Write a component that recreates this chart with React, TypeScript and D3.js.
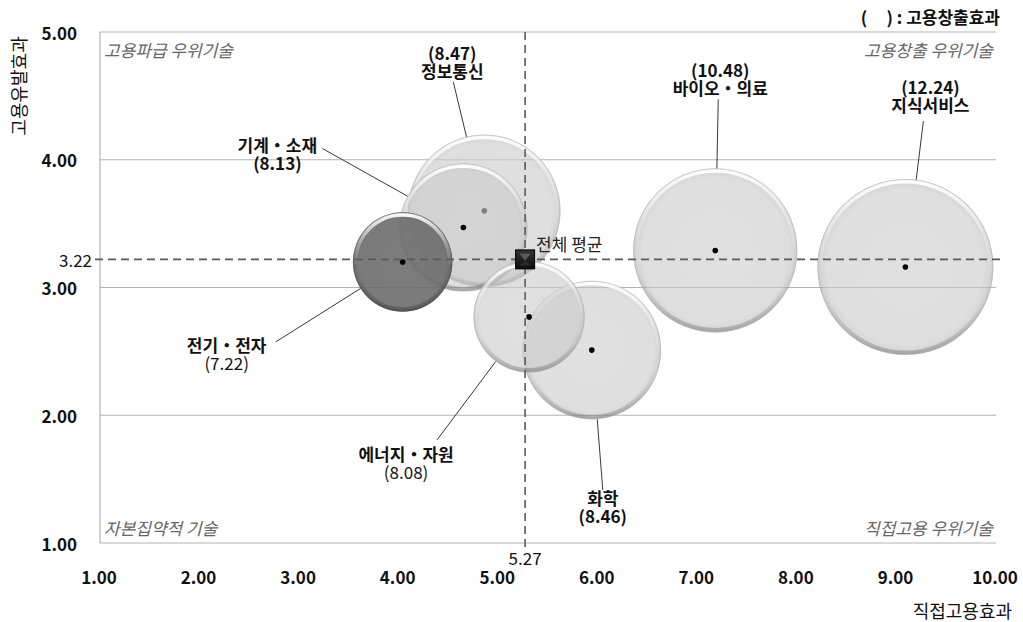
import React from "react";
import * as d3 from "d3";

// ---- data ----
const categories = ["전기・전자", "기계・소재", "정보통신", "바이오・의료", "지식서비스", "에너지・자원", "화학"];
const directEffect = [4.04, 4.65, 4.86, 7.18, 9.09, 5.31, 5.94]; // 직접고용효과 (x)
const inducedEffect = [3.2, 3.47, 3.6, 3.29, 3.16, 2.77, 2.51]; // 고용유발효과 (y)
const creationEffect = [7.22, 8.13, 8.47, 10.48, 12.24, 8.08, 8.46]; // 고용창출효과 (label)
const bubbleSize = [32, 53, 75, 87, 100, 40, 62]; // relative bubble area
const xTicks = [1, 2, 3, 4, 5, 6, 7, 8, 9, 10];
const yTicks = [1, 2, 3, 4, 5];
const avgX = 5.27;
const avgY = 3.22;
const avgLabel = "전체 평균";
const legendNote = "(     ) : 고용창출효과";
const xTitle = "직접고용효과";
const yTitle = "고용유발효과";
const quadrantNames = ["고용파급 우위기술", "고용창출 우위기술", "자본집약적 기술", "직접고용 우위기술"];

// ---- layout (label placement relative to bubble centre, px) ----
const labelLayout = [
  { dx: -176, dy: 83, valueFirst: false, lx: -127, ly: 80, valueBold: false },
  { dx: -186, dy: -83, valueFirst: false, lx: -141, ly: -79, valueBold: true },
  { dx: -32, dy: -158, valueFirst: true, lx: -31, ly: -129, valueBold: true },
  { dx: 5, dy: -181, valueFirst: true, lx: 3, ly: -151, valueBold: true },
  { dx: 25, dy: -181, valueFirst: true, lx: 18, ly: -146, valueBold: true },
  { dx: -123, dy: 137, valueFirst: false, lx: -92, ly: 123, valueBold: false },
  { dx: 11, dy: 147, valueFirst: false, lx: 11, ly: 140, valueBold: true },
];

const W = 1023;
const H = 622;
const M = { left: 100, right: 27, top: 32, bottom: 79 };
const FONT = "'Noto Sans CJK KR', 'Noto Sans', sans-serif";
const LINE_GAP = 18;

export default function App() {
  const x = d3.scaleLinear().domain([1, 10]).range([M.left, W - M.right]);
  const y = d3.scaleLinear().domain([1, 5]).range([H - M.bottom, M.top]);
  const r = d3.scaleSqrt().domain([0, 100]).range([0, 88]);

  const bubbles = categories.map((c, i) => ({
    name: c,
    cx: x(directEffect[i]),
    cy: y(inducedEffect[i]),
    r: r(bubbleSize[i]),
    value: creationEffect[i],
    dark: i === 0,
    i,
  }));
  const drawOrder = [...bubbles].sort((a, b) => b.r - a.r);

  const x0 = x(1), x1 = x(10), y0 = y(1), y1 = y(5);
  const ax = x(avgX), ay = y(avgY);

  return (
    <div style={{ position: "fixed", left: 0, top: 0, width: W, height: H, background: "#fff" }}>
      <svg width={W} height={H} style={{ display: "block", fontFamily: FONT }}>
        <defs>
          <radialGradient id="gLight" cx="50%" cy="50%" r="50%">
            <stop offset="0%" stopColor="#cdcdcd" />
            <stop offset="88%" stopColor="#cbcbcb" />
            <stop offset="96%" stopColor="#bdbdbd" />
            <stop offset="100%" stopColor="#a5a5a5" />
          </radialGradient>
          <radialGradient id="gDark" cx="50%" cy="50%" r="50%">
            <stop offset="0%" stopColor="#6e6e6e" />
            <stop offset="88%" stopColor="#6c6c6c" />
            <stop offset="96%" stopColor="#606060" />
            <stop offset="100%" stopColor="#4a4a4a" />
          </radialGradient>
          <linearGradient id="gRim" x1="0" y1="0" x2="0" y2="1">
            <stop offset="0%" stopColor="#fff" stopOpacity="0.95" />
            <stop offset="30%" stopColor="#fff" stopOpacity="0.35" />
            <stop offset="55%" stopColor="#fff" stopOpacity="0" />
            <stop offset="75%" stopColor="#000" stopOpacity="0.04" />
            <stop offset="100%" stopColor="#000" stopOpacity="0.2" />
          </linearGradient>
          <linearGradient id="gMarker" x1="0" y1="0" x2="0" y2="1">
            <stop offset="0%" stopColor="#333" />
            <stop offset="100%" stopColor="#0d0d0d" />
          </linearGradient>
        </defs>

        {/* gridlines */}
        {yTicks.map((t) => (
          <line key={"g" + t} x1={x0} x2={x1} y1={y(t)} y2={y(t)} stroke="#b3b3b3" strokeWidth={1.2} />
        ))}
        <line x1={x0} x2={x0} y1={y1} y2={y0} stroke="#b3b3b3" strokeWidth={1.2} />

        {/* quadrant labels */}
        <g fontStyle="italic" fill="#666" fontSize={17}>
          <text x={x0 + 4} y={y1 + 17} dominantBaseline="central">{quadrantNames[0]}</text>
          <text x={x1 - 3} y={y1 + 17} textAnchor="end" dominantBaseline="central">{quadrantNames[1]}</text>
          <text x={x0 + 4} y={y0 - 16} dominantBaseline="central">{quadrantNames[2]}</text>
          <text x={x1 - 3} y={y0 - 16} textAnchor="end" dominantBaseline="central">{quadrantNames[3]}</text>
        </g>

        {/* bubbles */}
        {drawOrder.map((b) => (
          <g key={b.name}>
            <circle cx={b.cx} cy={b.cy} r={b.r} fill={b.dark ? "url(#gDark)" : "url(#gLight)"} fillOpacity={b.dark ? 0.9 : 0.62} />
            <circle cx={b.cx} cy={b.cy} r={b.r - 2.5} fill="none" stroke="url(#gRim)" strokeWidth={4} />
            <circle cx={b.cx} cy={b.cy} r={b.r - 0.5} fill="none" stroke={b.dark ? "#555" : "#b0b0b0"} strokeOpacity={0.5} strokeWidth={1} />
            <circle cx={b.cx} cy={b.cy} r={2.8} fill="#000" />
          </g>
        ))}

        {/* average lines */}
        <line x1={x0 - 5} x2={x1 + 4} y1={ay} y2={ay} stroke="#5a5a5a" strokeWidth={1.6} strokeDasharray="8,5" />
        <line x1={ax} x2={ax} y1={y1} y2={y0 + 5} stroke="#5a5a5a" strokeWidth={1.6} strokeDasharray="8,5" />

        {/* average marker */}
        <g>
          <rect x={ax - 9.5} y={ay - 9.5} width={19} height={19} fill="url(#gMarker)" stroke="#000" strokeWidth={1} />
          <path d={`M${ax - 6},${ay - 6} L${ax + 6},${ay - 6} L${ax},${ay + 1} Z`} fill="#5a5a5a" />
          <path d={`M${ax - 6},${ay + 6} L${ax + 6},${ay + 6} L${ax},${ay + 1} Z`} fill="#2a2a2a" />
        </g>
        <text x={ax + 11} y={ay - 16} fontSize={17} fill="#222" dominantBaseline="central">
          {avgLabel}
        </text>

        {/* labels + leader lines */}
        {bubbles.map((b) => {
          const L = labelLayout[b.i];
          const sx = b.cx + L.lx;
          const sy = b.cy + L.ly;
          const ang = Math.atan2(L.ly, L.lx);
          const ex = b.cx + Math.cos(ang) * b.r;
          const ey = b.cy + Math.sin(ang) * b.r;
          const valTxt = `(${b.value.toFixed(2)})`;
          const lines = L.valueFirst
            ? [{ t: valTxt, bold: L.valueBold }, { t: b.name, bold: true }]
            : [{ t: b.name, bold: true }, { t: valTxt, bold: L.valueBold }];
          return (
            <g key={"l" + b.name}>
              <line x1={sx} y1={sy} x2={ex} y2={ey} stroke="#222" strokeWidth={0.9} />
              {lines.map((ln, k) => (
                <text
                  key={k}
                  x={b.cx + L.dx}
                  y={b.cy + L.dy + k * LINE_GAP}
                  textAnchor="middle"
                  dominantBaseline="central"
                  fontSize={17}
                  fontWeight={ln.bold ? 700 : 400}
                  fill="#111"
                >
                  {ln.t}
                </text>
              ))}
            </g>
          );
        })}

        {/* axes tick labels */}
        {yTicks.map((t) => (
          <text key={"yt" + t} x={77} y={y(t)} textAnchor="end" dominantBaseline="central" fontSize={17} fontWeight={700} fill="#111">
            {t.toFixed(2)}
          </text>
        ))}
        {xTicks.map((t) => (
          <text key={"xt" + t} x={x(t) - 1} y={576} textAnchor="middle" dominantBaseline="central" fontSize={17} fontWeight={700} fill="#111">
            {t.toFixed(2)}
          </text>
        ))}
        <text x={x0 - 8} y={ay} textAnchor="end" dominantBaseline="central" fontSize={17} fill="#111">
          {avgY.toFixed(2)}
        </text>
        <text x={ax} y={y0 + 14} textAnchor="middle" dominantBaseline="central" fontSize={17} fill="#111">
          {avgX.toFixed(2)}
        </text>

        {/* titles */}
        <text x={1012} y={610} textAnchor="end" dominantBaseline="central" fontSize={18} fill="#111">
          {xTitle}
        </text>
        <text transform={`translate(18,86) rotate(-90)`} textAnchor="middle" dominantBaseline="central" fontSize={18} fill="#111">
          {yTitle}
        </text>
        <text x={1000} y={16} textAnchor="end" dominantBaseline="central" fontSize={17} fontWeight={700} fill="#111" style={{ whiteSpace: "pre" }}>
          {legendNote}
        </text>
      </svg>
    </div>
  );
}
